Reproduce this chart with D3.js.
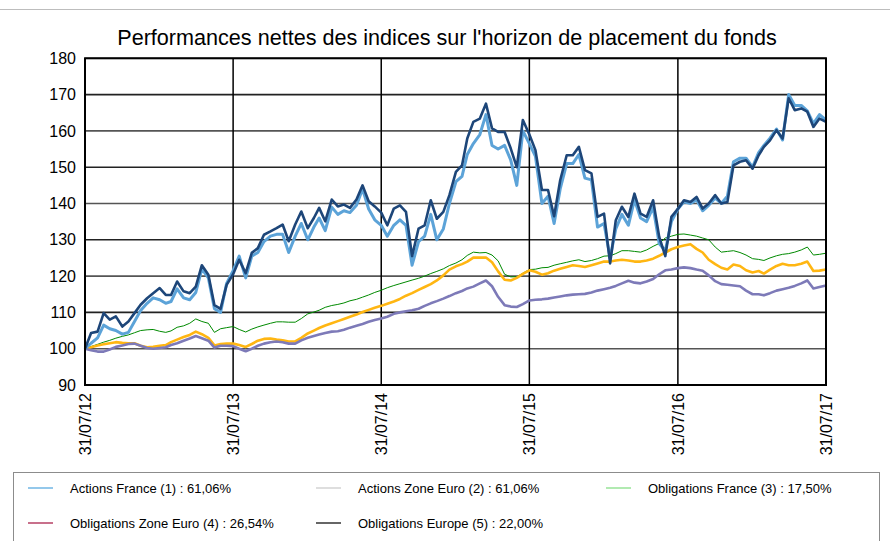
<!DOCTYPE html>
<html>
<head>
<meta charset="utf-8">
<script src="https://cdn.jsdelivr.net/npm/d3@7"></script>
<style>
  body { margin: 0; background: #fff; }
  svg { font-family: "Liberation Sans", Arial, sans-serif; }
</style>
</head>
<body>
<svg id="chart" width="890" height="541"></svg>
<script>
// valeurs, un point tous les demi-mois (31/07/12 -> 31/07/17)
var navy = [100, 104.3, 104.7, 109.8, 108, 108.9, 106.1, 107.5, 109.8, 112.1, 113.9, 115.3, 116.7, 114.8, 114.8, 118.5, 115.8, 115.3, 117.1, 123, 120.4, 112, 111, 117.6, 120.5,
  124.5, 120.8, 126.4, 127.7, 131.4, 132.3, 133.2, 134.2, 129.6, 134.2, 137.8, 133.2, 136, 138.8, 135.1, 141.1, 139.2, 139.7, 138.8, 141.1, 145, 140.6, 139.2, 137.5,
  134, 138.6, 139.5, 137.7, 125.5, 133.1, 134, 140.9, 135.8, 137.7, 142.3, 148.7, 150.5, 157.9, 162.5, 163.4, 167.5, 160.7, 159.7, 159.7, 155.2, 150, 163, 159,
  154.7, 143.7, 143.7, 136.5, 146.4, 153.3, 153.3, 155.6, 149.2, 148.3, 136.3, 137.2, 123.5, 135.4, 139.1, 136.3, 142.7, 137.2, 136.3, 140.9, 130.8, 125.5, 136.3, 138.5,
  140.9, 140.4, 141.8, 138.6, 140, 142.3, 140, 140.4, 150.5, 151.5, 151.9, 149.6, 153.3, 155.6, 157.4, 160.2, 157.9, 169, 165.7, 166.2, 165.3, 161.1, 163.4, 162.5]

var lightBlue = [100, 101.5, 103, 106.5, 105.5, 105, 104, 104.5, 107.5, 110.5, 112.5, 114, 113.5, 112.5, 113, 116.5, 114, 113.5, 115.5, 122, 119.5, 111, 110, 118, 121.5,
  125.5, 119.5, 125.5, 126.5, 129.5, 131, 131.5, 131.5, 126.5, 131, 134.5, 130, 133.5, 136, 132.5, 139, 137, 138, 137.5, 139.5, 144, 138.5, 135.5, 134,
  131, 134, 135.5, 134, 123, 129.5, 131, 137, 130, 133, 140, 146, 147.5, 153.5, 156.5, 159, 164.5, 156, 155, 156, 152, 145, 160, 156.5,
  153, 140, 142, 134.5, 144, 151, 151, 153.5, 147, 146.5, 133.5, 134.5, 125, 133, 137, 134, 141, 136, 135, 139, 129, 127, 135, 138.5,
  140.5, 140, 141, 138, 139.5, 141.5, 140, 142, 151.5, 152.5, 152.5, 150, 154, 156, 158, 160.5, 157.5, 170, 167, 167, 165.5, 162, 164.5, 163]

var green = [100, 100.6, 101.2, 101.8, 102.3, 102.9, 103.4, 103.8, 104.4, 105, 105.2, 105.3, 104.8, 104.5, 104.9, 105.9, 106.3, 107, 108.2, 107.5, 107, 104.5, 105.5, 105.8, 106.1,
  105.3, 104.6, 105.4, 106, 106.5, 107, 107.4, 107.4, 107.3, 107.3, 108.3, 109.6, 110.1, 110.6, 111.4, 111.9, 112.2, 112.6, 113.2, 113.6, 114.2, 114.8, 115.5, 116.1,
  116.8, 117.4, 117.9, 118.4, 118.9, 119.4, 120, 120.7, 121.3, 122, 122.9, 123.6, 124.5, 125.7, 126.6, 126.4, 126.5, 125.8, 124.2, 120.5, 119.8, 119.8, 120.8, 121.8,
  121.9, 122.3, 122.4, 123, 123.4, 123.8, 124.2, 124.5, 124, 124.3, 124.8, 125.5, 125.6, 126.2, 127, 127, 126.8, 126.6, 127.2, 128.2, 129, 130.5, 131, 131.5,
  131.6, 131.3, 131, 130.5, 130, 128, 126.6, 126.8, 127, 126.5, 125.8, 124.8, 124.6, 124.3, 125, 125.6, 126, 126.2, 126.6, 127.2, 128, 125.8, 126, 126.3]

var orange = [100, 100.4, 100.9, 101.2, 101.5, 101.8, 101.6, 101.5, 101.5, 100.8, 100.4, 100.5, 100.8, 101, 101.8, 102.5, 103.2, 103.8, 104.7, 104, 103, 100.9, 101.3, 101.4, 101.4,
  101, 100.5, 101.3, 102.2, 102.7, 102.8, 102.5, 102.3, 102, 102, 103, 104.2, 105, 105.7, 106.4, 107, 107.6, 108.2, 108.8, 109.4, 110.1, 110.7, 111.3, 111.8,
  112.4, 113, 113.7, 114.6, 115.3, 116.2, 117, 117.8, 118.8, 120.2, 121.8, 122.7, 123.3, 124, 125.1, 125.1, 125.1, 123.8, 121.3, 119, 118.8, 119.5, 120.6, 121.6,
  121.2, 120.4, 120.8, 121.5, 122, 122.5, 123, 122.8, 122.5, 123, 123.5, 124, 124, 124.3, 124.5, 124.3, 124, 124, 124.3, 124.8, 125.6, 126.5, 127.4, 128,
  128.4, 128.8, 127.5, 126.5, 124.5, 123.3, 122.3, 121.8, 123.2, 122.8, 121.6, 121, 121.4, 120.7, 121.8, 122.8, 123.4, 123, 123, 123.4, 124, 121.4, 121.5, 121.8]

var purple = [100, 99.6, 99.2, 99.2, 99.8, 100.5, 100.9, 101.3, 101.4, 100.8, 100.2, 100, 100.2, 100.4, 101, 101.5, 102.2, 102.8, 103.5, 102.9, 102.2, 100.3, 100.8, 100.8, 100.7,
  100, 99.3, 100, 100.8, 101.4, 101.8, 102, 101.8, 101.4, 101.4, 102.3, 103, 103.5, 103.9, 104.3, 104.7, 104.8, 105.2, 105.8, 106.3, 106.8, 107.4, 107.9, 108.3,
  108.8, 109.6, 110, 110.3, 110.6, 111, 111.8, 112.5, 113.1, 113.8, 114.5, 115.3, 115.9, 116.6, 117.1, 118, 118.8, 117.2, 114.3, 112, 111.6, 111.5, 112.3, 113.3,
  113.5, 113.6, 113.8, 114.1, 114.4, 114.7, 114.9, 115, 115.1, 115.5, 116, 116.4, 116.8, 117.3, 118, 118.7, 118.2, 118, 118.5, 119.2, 120.5, 121.6, 121.8, 122.2,
  122.4, 122.2, 121.8, 121.5, 120.2, 118.6, 117.8, 117.6, 117.4, 117.2, 116, 115, 115, 114.7, 115.3, 116, 116.4, 116.8, 117.3, 118, 118.8, 116.6, 117, 117.4]

var yTicks = [90, 100, 110, 120, 130, 140, 150, 160, 170, 180]
var xTickLabels = ["31/07/12", "31/07/13", "31/07/14", "31/07/15", "31/07/16", "31/07/17"]

var legendLabels = ["Actions France (1) : 61,06%", "Actions Zone Euro (2) : 61,06%", "Obligations France (3) : 17,50%",
  "Obligations Zone Euro (4) : 26,54%", "Obligations Europe (5) : 22,00%"]
var legendColors = ["#4ea3de", "#c9c9c9", "#7edc7e", "#a3123e", "#000000"]

var title = "Performances nettes des indices sur l'horizon de placement du fonds"

// dates : fin de mois et 15 du mois suivant
var dates = d3.range(navy.length).map(function(k){
  var m = Math.floor(k / 2)
  return k % 2 === 0 ? new Date(2012, 7 + m, 0) : new Date(2012, 7 + m, 15)
})
var parse = d3.timeParse("%d/%m/%y")

var svg = d3.select("#chart"),
    margin = {top: 58.3, right: 64, bottom: 156, left: 85},
    width = +svg.attr("width") - margin.left - margin.right,
    height = +svg.attr("height") - margin.top - margin.bottom;

const x = d3.scaleTime()
  .domain([dates[0], dates[dates.length - 1]])
  .range([0, width])

const y = d3.scaleLinear()
  .domain([90, 180])
  .range([height, 0])

// fine ligne grise en haut
svg.append("line")
  .attr("x1", 0).attr("x2", 890).attr("y1", 9.5).attr("y2", 9.5)
  .attr("stroke", "#bdbdbd")

svg.append("text")
  .attr("x", 447).attr("y", 45)
  .attr("text-anchor", "middle")
  .style("font-size", "21.6px")
  .text(title)

const g = svg.append("g")
  .attr("transform", "translate(" + margin.left + "," + margin.top + ")")

// grille horizontale
g.append("g")
  .selectAll("line")
  .data(yTicks)
  .join("line")
    .attr("x1", 0).attr("x2", width)
    .attr("y1", d => y(d)).attr("y2", d => y(d))
    .attr("stroke", (d, i) => i % 2 ? "#555" : "#222")
    .attr("stroke-width", 1.6)

// grille verticale
g.append("g")
  .selectAll("line")
  .data(xTickLabels)
  .join("line")
    .attr("x1", d => x(parse(d))).attr("x2", d => x(parse(d)))
    .attr("y1", 0).attr("y2", height)
    .attr("stroke", "#000")
    .attr("stroke-width", 1.5)

g.append("g")
  .call(d3.axisLeft(y).tickValues(yTicks).tickSize(0).tickPadding(9))
  .call(s => s.select(".domain").remove())
  .selectAll("text")
    .style("font-size", "16px")
    .attr("fill", "#000")

g.append("g")
  .attr("transform", "translate(0," + height + ")")
  .call(d3.axisBottom(x).tickValues(xTickLabels.map(parse)).tickFormat(d3.timeFormat("%d/%m/%y")).tickSize(0))
  .call(s => s.select(".domain").remove())
  .selectAll("text")
    .style("font-size", "16px")
    .attr("fill", "#000")
    .attr("transform", "rotate(-90)")
    .attr("text-anchor", "end")
    .attr("x", -8)
    .attr("y", 0)
    .attr("dy", "0.35em")

const line = d3.line()
  .x((d, i) => x(dates[i]))
  .y(d => y(d))

var series = [
  {values: green, color: "#008a00", w: 1},
  {values: orange, color: "#ffb612", w: 2.6},
  {values: purple, color: "#7d7ab8", w: 2.6},
  {values: lightBlue, color: "#5ca3d8", w: 3},
  {values: navy, color: "#1d4679", w: 2.6}
]

g.append("g")
  .selectAll("path")
  .data(series)
  .join("path")
    .attr("d", d => line(d.values))
    .attr("fill", "none")
    .attr("stroke", d => d.color)
    .attr("stroke-width", d => d.w)
    .attr("stroke-linejoin", "round")

// cadre
g.append("rect")
  .attr("width", width).attr("height", height)
  .attr("fill", "none")
  .attr("stroke", "#000")
  .attr("stroke-width", 2)

// légende
var legX = [28, 316, 606]
var legY = [488, 523]
const legend = svg.append("g")
legend.append("rect")
  .attr("x", 13.5).attr("y", 472.5)
  .attr("width", 866).attr("height", 90)
  .attr("fill", "none")
  .attr("stroke", "#8c8c8c")

const item = legend.selectAll("g.item")
  .data(legendLabels)
  .join("g")
    .attr("class", "item")
    .attr("transform", (d, i) => "translate(" + legX[i % 3] + "," + legY[Math.floor(i / 3)] + ")")

item.append("line")
  .attr("x1", 0).attr("x2", 25)
  .attr("stroke", (d, i) => legendColors[i])
  .attr("stroke-width", 1.2)

item.append("text")
  .attr("x", 42).attr("dy", "0.35em")
  .style("font-size", "13px")
  .text(d => d)
</script>
</body>
</html>
